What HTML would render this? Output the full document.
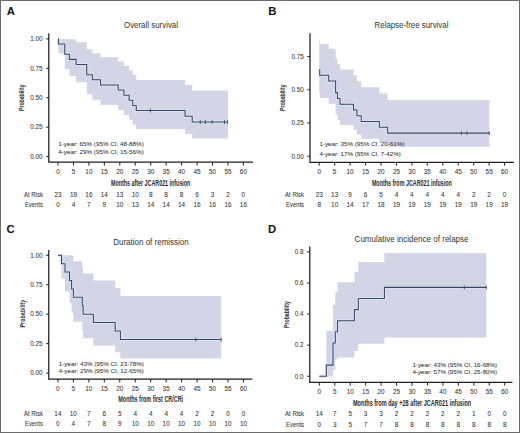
<!DOCTYPE html>
<html><head><meta charset="utf-8"><style>
html,body{margin:0;padding:0;background:#fff;}
svg{display:block;}
text{font-family:"Liberation Sans",sans-serif;}
.s{stroke:#383838;stroke-width:0.06px;}
</style></head><body>
<svg width="520" height="433" viewBox="0 0 520 433">
<rect x="0" y="0" width="520" height="433" fill="#fff"/>
<path d="M58.5,38.9 L64.75,38.9 L64.75,38.9 L69.4,38.9 L69.4,39.32 L76.1,39.32 L76.1,42.35 L86.75,42.35 L86.75,49.31 L92.4,49.31 L92.4,53.14 L100.5,53.14 L100.5,57.18 L118.2,57.18 L118.2,61.39 L123.9,61.39 L123.9,65.78 L129.1,65.78 L129.1,70.34 L132.7,70.34 L132.7,75.05 L136.25,75.05 L136.25,79.92 L185.1,79.92 L185.1,85.12 L192.2,85.12 L192.2,90.57 L228,90.57 L228,138.53 L192.2,138.53 L192.2,133.88 L185.1,133.88 L185.1,128.94 L136.25,128.94 L136.25,124.49 L132.7,124.49 L132.7,119.87 L129.1,119.87 L129.1,115.08 L123.9,115.08 L123.9,110.11 L118.2,110.11 L118.2,104.97 L100.5,104.97 L100.5,99.65 L92.4,99.65 L92.4,94.12 L86.75,94.12 L86.75,82.34 L76.1,82.34 L76.1,75.99 L69.4,75.99 L69.4,69.24 L64.75,69.24 L64.75,53.41 L58.5,53.41 Z" fill="rgb(211,213,230)"/>
<path d="M58,38.9 H58.5 V44.02 H64.75 V54.25 H69.4 V59.37 H76.1 V64.49 H86.75 V74.72 H92.4 V79.84 H100.5 V84.96 H118.2 V90.07 H123.9 V95.19 H129.1 V100.31 H132.7 V105.43 H136.25 V110.54 H185.1 V116.3 H192.2 V122.06 H228" fill="none" stroke="rgb(218,229,249)" stroke-width="2.9" stroke-linejoin="miter" opacity="0.9"/>
<path d="M58,38.9 H58.5 V44.02 H64.75 V54.25 H69.4 V59.37 H76.1 V64.49 H86.75 V74.72 H92.4 V79.84 H100.5 V84.96 H118.2 V90.07 H123.9 V95.19 H129.1 V100.31 H132.7 V105.43 H136.25 V110.54 H185.1 V116.3 H192.2 V122.06 H228" fill="none" stroke="#364761" stroke-width="1.05" stroke-linejoin="miter"/>
<path d="M150.3,108.64 V112.44" stroke="#364761" stroke-width="0.9"/>
<path d="M200.3,120.16 V123.96" stroke="#364761" stroke-width="0.9"/>
<path d="M205.4,120.16 V123.96" stroke="#364761" stroke-width="0.9"/>
<path d="M212.2,120.16 V123.96" stroke="#364761" stroke-width="0.9"/>
<path d="M224.5,120.16 V123.96" stroke="#364761" stroke-width="0.9"/>
<path d="M227.6,120.16 V123.96" stroke="#364761" stroke-width="0.9"/>
<path d="M48.8,33.2 V162.2 H253" fill="none" stroke="#1e1e1e" stroke-width="1.25"/>
<path d="M46.2,38.9 H48.8" stroke="#1e1e1e" stroke-width="1.0"/>
<text x="42.6" y="41.15" font-size="6.3" text-anchor="end" fill="#353535" class="s">1.00</text>
<path d="M46.2,68.32 H48.8" stroke="#1e1e1e" stroke-width="1.0"/>
<text x="42.6" y="70.57" font-size="6.3" text-anchor="end" fill="#353535" class="s">0.75</text>
<path d="M46.2,97.75 H48.8" stroke="#1e1e1e" stroke-width="1.0"/>
<text x="42.6" y="100" font-size="6.3" text-anchor="end" fill="#353535" class="s">0.50</text>
<path d="M46.2,127.17 H48.8" stroke="#1e1e1e" stroke-width="1.0"/>
<text x="42.6" y="129.43" font-size="6.3" text-anchor="end" fill="#353535" class="s">0.25</text>
<path d="M46.2,156.6 H48.8" stroke="#1e1e1e" stroke-width="1.0"/>
<text x="42.6" y="158.85" font-size="6.3" text-anchor="end" fill="#353535" class="s">0.00</text>
<path d="M58,162.2 V165.6" stroke="#1e1e1e" stroke-width="1.0"/>
<text x="58" y="174" font-size="6.4" text-anchor="middle" fill="#353535" class="s">0</text>
<text x="58" y="196.6" font-size="6.4" text-anchor="middle" fill="#353535" class="s">23</text>
<text x="58" y="206.8" font-size="6.4" text-anchor="middle" fill="#353535" class="s">0</text>
<path d="M73.45,162.2 V165.6" stroke="#1e1e1e" stroke-width="1.0"/>
<text x="73.45" y="174" font-size="6.4" text-anchor="middle" fill="#353535" class="s">5</text>
<text x="73.45" y="196.6" font-size="6.4" text-anchor="middle" fill="#353535" class="s">19</text>
<text x="73.45" y="206.8" font-size="6.4" text-anchor="middle" fill="#353535" class="s">4</text>
<path d="M88.9,162.2 V165.6" stroke="#1e1e1e" stroke-width="1.0"/>
<text x="88.9" y="174" font-size="6.4" text-anchor="middle" fill="#353535" class="s">10</text>
<text x="88.9" y="196.6" font-size="6.4" text-anchor="middle" fill="#353535" class="s">16</text>
<text x="88.9" y="206.8" font-size="6.4" text-anchor="middle" fill="#353535" class="s">7</text>
<path d="M104.35,162.2 V165.6" stroke="#1e1e1e" stroke-width="1.0"/>
<text x="104.35" y="174" font-size="6.4" text-anchor="middle" fill="#353535" class="s">15</text>
<text x="104.35" y="196.6" font-size="6.4" text-anchor="middle" fill="#353535" class="s">14</text>
<text x="104.35" y="206.8" font-size="6.4" text-anchor="middle" fill="#353535" class="s">9</text>
<path d="M119.8,162.2 V165.6" stroke="#1e1e1e" stroke-width="1.0"/>
<text x="119.8" y="174" font-size="6.4" text-anchor="middle" fill="#353535" class="s">20</text>
<text x="119.8" y="196.6" font-size="6.4" text-anchor="middle" fill="#353535" class="s">13</text>
<text x="119.8" y="206.8" font-size="6.4" text-anchor="middle" fill="#353535" class="s">10</text>
<path d="M135.25,162.2 V165.6" stroke="#1e1e1e" stroke-width="1.0"/>
<text x="135.25" y="174" font-size="6.4" text-anchor="middle" fill="#353535" class="s">25</text>
<text x="135.25" y="196.6" font-size="6.4" text-anchor="middle" fill="#353535" class="s">10</text>
<text x="135.25" y="206.8" font-size="6.4" text-anchor="middle" fill="#353535" class="s">13</text>
<path d="M150.7,162.2 V165.6" stroke="#1e1e1e" stroke-width="1.0"/>
<text x="150.7" y="174" font-size="6.4" text-anchor="middle" fill="#353535" class="s">30</text>
<text x="150.7" y="196.6" font-size="6.4" text-anchor="middle" fill="#353535" class="s">8</text>
<text x="150.7" y="206.8" font-size="6.4" text-anchor="middle" fill="#353535" class="s">14</text>
<path d="M166.15,162.2 V165.6" stroke="#1e1e1e" stroke-width="1.0"/>
<text x="166.15" y="174" font-size="6.4" text-anchor="middle" fill="#353535" class="s">35</text>
<text x="166.15" y="196.6" font-size="6.4" text-anchor="middle" fill="#353535" class="s">8</text>
<text x="166.15" y="206.8" font-size="6.4" text-anchor="middle" fill="#353535" class="s">14</text>
<path d="M181.6,162.2 V165.6" stroke="#1e1e1e" stroke-width="1.0"/>
<text x="181.6" y="174" font-size="6.4" text-anchor="middle" fill="#353535" class="s">40</text>
<text x="181.6" y="196.6" font-size="6.4" text-anchor="middle" fill="#353535" class="s">8</text>
<text x="181.6" y="206.8" font-size="6.4" text-anchor="middle" fill="#353535" class="s">14</text>
<path d="M197.05,162.2 V165.6" stroke="#1e1e1e" stroke-width="1.0"/>
<text x="197.05" y="174" font-size="6.4" text-anchor="middle" fill="#353535" class="s">45</text>
<text x="197.05" y="196.6" font-size="6.4" text-anchor="middle" fill="#353535" class="s">6</text>
<text x="197.05" y="206.8" font-size="6.4" text-anchor="middle" fill="#353535" class="s">16</text>
<path d="M212.5,162.2 V165.6" stroke="#1e1e1e" stroke-width="1.0"/>
<text x="212.5" y="174" font-size="6.4" text-anchor="middle" fill="#353535" class="s">50</text>
<text x="212.5" y="196.6" font-size="6.4" text-anchor="middle" fill="#353535" class="s">3</text>
<text x="212.5" y="206.8" font-size="6.4" text-anchor="middle" fill="#353535" class="s">16</text>
<path d="M227.95,162.2 V165.6" stroke="#1e1e1e" stroke-width="1.0"/>
<text x="227.95" y="174" font-size="6.4" text-anchor="middle" fill="#353535" class="s">55</text>
<text x="227.95" y="196.6" font-size="6.4" text-anchor="middle" fill="#353535" class="s">2</text>
<text x="227.95" y="206.8" font-size="6.4" text-anchor="middle" fill="#353535" class="s">16</text>
<path d="M243.4,162.2 V165.6" stroke="#1e1e1e" stroke-width="1.0"/>
<text x="243.4" y="174" font-size="6.4" text-anchor="middle" fill="#353535" class="s">60</text>
<text x="243.4" y="196.6" font-size="6.4" text-anchor="middle" fill="#353535" class="s">0</text>
<text x="243.4" y="206.8" font-size="6.4" text-anchor="middle" fill="#353535" class="s">16</text>
<text x="42.9" y="196.6" font-size="6.4" text-anchor="end" textLength="18.9" lengthAdjust="spacingAndGlyphs" fill="#353535" class="s">At Risk</text>
<text x="42.9" y="206.8" font-size="6.4" text-anchor="end" textLength="17.9" lengthAdjust="spacingAndGlyphs" fill="#353535" class="s">Events</text>
<text x="6.7" y="14.6" font-size="11.3" font-weight="bold" fill="#111">A</text>
<text x="124" y="27.9" font-size="8.3" textLength="54" lengthAdjust="spacingAndGlyphs" fill="#333">Overall survival</text>
<text x="111" y="185.6" font-size="8.8" font-weight="bold" textLength="79.4" lengthAdjust="spacingAndGlyphs" fill="#2a2a2a">Months after JCAR021 infusion</text>
<text transform="translate(24.3,97.7) rotate(-90)" x="0" y="0" font-size="8.0" font-weight="bold" text-anchor="middle" fill="#333" textLength="26.4" lengthAdjust="spacingAndGlyphs">Probability</text>
<text x="58.2" y="146.4" font-size="6" textLength="85.6" lengthAdjust="spacingAndGlyphs" fill="#353535" class="s">1-year: 65% (95% CI, 48-88%)</text>
<text x="58.2" y="153.6" font-size="6" textLength="85.6" lengthAdjust="spacingAndGlyphs" fill="#353535" class="s">4-year: 29% (95% CI, 15-56%)</text>
<path d="M319.2,39.34 L319.75,39.34 L319.75,43.9 L328.75,43.9 L328.75,48.67 L335.6,48.67 L335.6,58.77 L337.5,58.77 L337.5,64.1 L340,64.1 L340,69.61 L353.5,69.61 L353.5,75.29 L356.9,75.29 L356.9,81.16 L361.25,81.16 L361.25,87.22 L379.4,87.22 L379.4,93.46 L387.6,93.46 L387.6,99.88 L489.3,99.88 L489.3,146.76 L387.6,146.76 L387.6,142.94 L379.4,142.94 L379.4,138.81 L361.25,138.81 L361.25,134.43 L356.9,134.43 L356.9,129.82 L353.5,129.82 L353.5,124.99 L340,124.99 L340,119.96 L337.5,119.96 L337.5,114.74 L335.6,114.74 L335.6,103.72 L328.75,103.72 L328.75,97.91 L319.75,97.91 L319.75,91.89 L319.2,91.89 Z" fill="rgb(211,213,230)"/>
<path d="M319.2,69.51 H319.75 V75.29 H328.75 V81.08 H335.6 V92.64 H337.5 V98.42 H340 V104.21 H353.5 V109.99 H356.9 V115.77 H361.25 V121.55 H379.4 V127.34 H387.6 V133.12 H489.3" fill="none" stroke="rgb(218,229,249)" stroke-width="2.9" stroke-linejoin="miter" opacity="0.9"/>
<path d="M319.2,69.51 H319.75 V75.29 H328.75 V81.08 H335.6 V92.64 H337.5 V98.42 H340 V104.21 H353.5 V109.99 H356.9 V115.77 H361.25 V121.55 H379.4 V127.34 H387.6 V133.12 H489.3" fill="none" stroke="#364761" stroke-width="1.05" stroke-linejoin="miter"/>
<path d="M461.4,131.22 V135.02" stroke="#364761" stroke-width="0.9"/>
<path d="M466.9,131.22 V135.02" stroke="#364761" stroke-width="0.9"/>
<path d="M489.3,131.22 V135.02" stroke="#364761" stroke-width="0.9"/>
<path d="M310,33.25 V162.25 H513.8" fill="none" stroke="#1e1e1e" stroke-width="1.25"/>
<path d="M307.4,56.5 H310" stroke="#1e1e1e" stroke-width="1.0"/>
<text x="303.7" y="58.75" font-size="6.3" text-anchor="end" fill="#353535" class="s">0.75</text>
<path d="M307.4,89.75 H310" stroke="#1e1e1e" stroke-width="1.0"/>
<text x="303.7" y="92" font-size="6.3" text-anchor="end" fill="#353535" class="s">0.50</text>
<path d="M307.4,123 H310" stroke="#1e1e1e" stroke-width="1.0"/>
<text x="303.7" y="125.25" font-size="6.3" text-anchor="end" fill="#353535" class="s">0.25</text>
<path d="M307.4,156.25 H310" stroke="#1e1e1e" stroke-width="1.0"/>
<text x="303.7" y="158.5" font-size="6.3" text-anchor="end" fill="#353535" class="s">0.00</text>
<path d="M319.2,162.25 V165.65" stroke="#1e1e1e" stroke-width="1.0"/>
<text x="319.2" y="174" font-size="6.4" text-anchor="middle" fill="#353535" class="s">0</text>
<text x="319.2" y="196.6" font-size="6.4" text-anchor="middle" fill="#353535" class="s">23</text>
<text x="319.2" y="206.8" font-size="6.4" text-anchor="middle" fill="#353535" class="s">8</text>
<path d="M334.65,162.25 V165.65" stroke="#1e1e1e" stroke-width="1.0"/>
<text x="334.65" y="174" font-size="6.4" text-anchor="middle" fill="#353535" class="s">5</text>
<text x="334.65" y="196.6" font-size="6.4" text-anchor="middle" fill="#353535" class="s">13</text>
<text x="334.65" y="206.8" font-size="6.4" text-anchor="middle" fill="#353535" class="s">10</text>
<path d="M350.1,162.25 V165.65" stroke="#1e1e1e" stroke-width="1.0"/>
<text x="350.1" y="174" font-size="6.4" text-anchor="middle" fill="#353535" class="s">10</text>
<text x="350.1" y="196.6" font-size="6.4" text-anchor="middle" fill="#353535" class="s">9</text>
<text x="350.1" y="206.8" font-size="6.4" text-anchor="middle" fill="#353535" class="s">14</text>
<path d="M365.55,162.25 V165.65" stroke="#1e1e1e" stroke-width="1.0"/>
<text x="365.55" y="174" font-size="6.4" text-anchor="middle" fill="#353535" class="s">15</text>
<text x="365.55" y="196.6" font-size="6.4" text-anchor="middle" fill="#353535" class="s">6</text>
<text x="365.55" y="206.8" font-size="6.4" text-anchor="middle" fill="#353535" class="s">17</text>
<path d="M381,162.25 V165.65" stroke="#1e1e1e" stroke-width="1.0"/>
<text x="381" y="174" font-size="6.4" text-anchor="middle" fill="#353535" class="s">20</text>
<text x="381" y="196.6" font-size="6.4" text-anchor="middle" fill="#353535" class="s">5</text>
<text x="381" y="206.8" font-size="6.4" text-anchor="middle" fill="#353535" class="s">18</text>
<path d="M396.45,162.25 V165.65" stroke="#1e1e1e" stroke-width="1.0"/>
<text x="396.45" y="174" font-size="6.4" text-anchor="middle" fill="#353535" class="s">25</text>
<text x="396.45" y="196.6" font-size="6.4" text-anchor="middle" fill="#353535" class="s">4</text>
<text x="396.45" y="206.8" font-size="6.4" text-anchor="middle" fill="#353535" class="s">19</text>
<path d="M411.9,162.25 V165.65" stroke="#1e1e1e" stroke-width="1.0"/>
<text x="411.9" y="174" font-size="6.4" text-anchor="middle" fill="#353535" class="s">30</text>
<text x="411.9" y="196.6" font-size="6.4" text-anchor="middle" fill="#353535" class="s">4</text>
<text x="411.9" y="206.8" font-size="6.4" text-anchor="middle" fill="#353535" class="s">19</text>
<path d="M427.35,162.25 V165.65" stroke="#1e1e1e" stroke-width="1.0"/>
<text x="427.35" y="174" font-size="6.4" text-anchor="middle" fill="#353535" class="s">35</text>
<text x="427.35" y="196.6" font-size="6.4" text-anchor="middle" fill="#353535" class="s">4</text>
<text x="427.35" y="206.8" font-size="6.4" text-anchor="middle" fill="#353535" class="s">19</text>
<path d="M442.8,162.25 V165.65" stroke="#1e1e1e" stroke-width="1.0"/>
<text x="442.8" y="174" font-size="6.4" text-anchor="middle" fill="#353535" class="s">40</text>
<text x="442.8" y="196.6" font-size="6.4" text-anchor="middle" fill="#353535" class="s">4</text>
<text x="442.8" y="206.8" font-size="6.4" text-anchor="middle" fill="#353535" class="s">19</text>
<path d="M458.25,162.25 V165.65" stroke="#1e1e1e" stroke-width="1.0"/>
<text x="458.25" y="174" font-size="6.4" text-anchor="middle" fill="#353535" class="s">45</text>
<text x="458.25" y="196.6" font-size="6.4" text-anchor="middle" fill="#353535" class="s">4</text>
<text x="458.25" y="206.8" font-size="6.4" text-anchor="middle" fill="#353535" class="s">19</text>
<path d="M473.7,162.25 V165.65" stroke="#1e1e1e" stroke-width="1.0"/>
<text x="473.7" y="174" font-size="6.4" text-anchor="middle" fill="#353535" class="s">50</text>
<text x="473.7" y="196.6" font-size="6.4" text-anchor="middle" fill="#353535" class="s">2</text>
<text x="473.7" y="206.8" font-size="6.4" text-anchor="middle" fill="#353535" class="s">19</text>
<path d="M489.15,162.25 V165.65" stroke="#1e1e1e" stroke-width="1.0"/>
<text x="489.15" y="174" font-size="6.4" text-anchor="middle" fill="#353535" class="s">55</text>
<text x="489.15" y="196.6" font-size="6.4" text-anchor="middle" fill="#353535" class="s">2</text>
<text x="489.15" y="206.8" font-size="6.4" text-anchor="middle" fill="#353535" class="s">19</text>
<path d="M504.6,162.25 V165.65" stroke="#1e1e1e" stroke-width="1.0"/>
<text x="504.6" y="174" font-size="6.4" text-anchor="middle" fill="#353535" class="s">60</text>
<text x="504.6" y="196.6" font-size="6.4" text-anchor="middle" fill="#353535" class="s">0</text>
<text x="504.6" y="206.8" font-size="6.4" text-anchor="middle" fill="#353535" class="s">19</text>
<text x="304" y="196.6" font-size="6.4" text-anchor="end" textLength="18.9" lengthAdjust="spacingAndGlyphs" fill="#353535" class="s">At Risk</text>
<text x="304" y="206.8" font-size="6.4" text-anchor="end" textLength="17.9" lengthAdjust="spacingAndGlyphs" fill="#353535" class="s">Events</text>
<text x="268.2" y="14.5" font-size="11.3" font-weight="bold" fill="#111">B</text>
<text x="374.6" y="28.2" font-size="8.3" textLength="73.8" lengthAdjust="spacingAndGlyphs" fill="#333">Relapse-free survival</text>
<text x="371.9" y="185.6" font-size="8.8" font-weight="bold" textLength="80" lengthAdjust="spacingAndGlyphs" fill="#2a2a2a">Months from JCAR021 infusion</text>
<text transform="translate(285.4,97.7) rotate(-90)" x="0" y="0" font-size="8.0" font-weight="bold" text-anchor="middle" fill="#333" textLength="26.4" lengthAdjust="spacingAndGlyphs">Probability</text>
<text x="319.4" y="146.3" font-size="6" textLength="85" lengthAdjust="spacingAndGlyphs" fill="#353535" class="s">1-year: 35% (95% CI, 20-61%)</text>
<text x="319.4" y="156.4" font-size="6" textLength="81.4" lengthAdjust="spacingAndGlyphs" fill="#353535" class="s">4-year: 17% (95% CI, 7-42%)</text>
<path d="M61.5,255.25 L65,255.25 L65,255.25 L69.5,255.25 L69.5,255.25 L71.6,255.25 L71.6,255.86 L73.4,255.86 L73.4,261.15 L82.3,261.15 L82.3,267.1 L83.1,267.1 L83.1,273.61 L93.4,273.61 L93.4,280.62 L115.2,280.62 L115.2,288.11 L120.4,288.11 L120.4,296.02 L221.2,296.02 L221.2,358.39 L120.4,358.39 L120.4,352.26 L115.2,352.26 L115.2,345.52 L93.4,345.52 L93.4,338.2 L83.1,338.2 L83.1,330.32 L82.3,330.32 L82.3,321.83 L73.4,321.83 L73.4,312.66 L71.6,312.66 L71.6,302.67 L69.5,302.67 L69.5,291.53 L65,291.53 L65,278.47 L61.5,278.47 Z" fill="rgb(211,213,230)"/>
<path d="M57.9,255.25 H61.5 V263.67 H65 V272.09 H69.5 V280.5 H71.6 V288.92 H73.4 V297.34 H82.3 V305.76 H83.1 V314.18 H93.4 V322.59 H115.2 V331.01 H120.4 V339.43 H221.2" fill="none" stroke="rgb(218,229,249)" stroke-width="2.9" stroke-linejoin="miter" opacity="0.9"/>
<path d="M57.9,255.25 H61.5 V263.67 H65 V272.09 H69.5 V280.5 H71.6 V288.92 H73.4 V297.34 H82.3 V305.76 H83.1 V314.18 H93.4 V322.59 H115.2 V331.01 H120.4 V339.43 H221.2" fill="none" stroke="#364761" stroke-width="1.05" stroke-linejoin="miter"/>
<path d="M195.75,337.53 V341.33" stroke="#364761" stroke-width="0.9"/>
<path d="M221.2,337.53 V341.33" stroke="#364761" stroke-width="0.9"/>
<path d="M48.75,250 V379 H252.3" fill="none" stroke="#1e1e1e" stroke-width="1.25"/>
<path d="M46.15,255.25 H48.75" stroke="#1e1e1e" stroke-width="1.0"/>
<text x="42.4" y="257.5" font-size="6.3" text-anchor="end" fill="#353535" class="s">1.00</text>
<path d="M46.15,284.71 H48.75" stroke="#1e1e1e" stroke-width="1.0"/>
<text x="42.4" y="286.96" font-size="6.3" text-anchor="end" fill="#353535" class="s">0.75</text>
<path d="M46.15,314.18 H48.75" stroke="#1e1e1e" stroke-width="1.0"/>
<text x="42.4" y="316.43" font-size="6.3" text-anchor="end" fill="#353535" class="s">0.50</text>
<path d="M46.15,343.64 H48.75" stroke="#1e1e1e" stroke-width="1.0"/>
<text x="42.4" y="345.89" font-size="6.3" text-anchor="end" fill="#353535" class="s">0.25</text>
<path d="M46.15,373.1 H48.75" stroke="#1e1e1e" stroke-width="1.0"/>
<text x="42.4" y="375.35" font-size="6.3" text-anchor="end" fill="#353535" class="s">0.00</text>
<path d="M57.9,379 V382.4" stroke="#1e1e1e" stroke-width="1.0"/>
<text x="57.9" y="390.5" font-size="6.4" text-anchor="middle" fill="#353535" class="s">0</text>
<text x="57.9" y="416.2" font-size="6.4" text-anchor="middle" fill="#353535" class="s">14</text>
<text x="57.9" y="426.2" font-size="6.4" text-anchor="middle" fill="#353535" class="s">0</text>
<path d="M73.36,379 V382.4" stroke="#1e1e1e" stroke-width="1.0"/>
<text x="73.36" y="390.5" font-size="6.4" text-anchor="middle" fill="#353535" class="s">5</text>
<text x="73.36" y="416.2" font-size="6.4" text-anchor="middle" fill="#353535" class="s">10</text>
<text x="73.36" y="426.2" font-size="6.4" text-anchor="middle" fill="#353535" class="s">4</text>
<path d="M88.83,379 V382.4" stroke="#1e1e1e" stroke-width="1.0"/>
<text x="88.83" y="390.5" font-size="6.4" text-anchor="middle" fill="#353535" class="s">10</text>
<text x="88.83" y="416.2" font-size="6.4" text-anchor="middle" fill="#353535" class="s">7</text>
<text x="88.83" y="426.2" font-size="6.4" text-anchor="middle" fill="#353535" class="s">7</text>
<path d="M104.29,379 V382.4" stroke="#1e1e1e" stroke-width="1.0"/>
<text x="104.29" y="390.5" font-size="6.4" text-anchor="middle" fill="#353535" class="s">15</text>
<text x="104.29" y="416.2" font-size="6.4" text-anchor="middle" fill="#353535" class="s">6</text>
<text x="104.29" y="426.2" font-size="6.4" text-anchor="middle" fill="#353535" class="s">8</text>
<path d="M119.76,379 V382.4" stroke="#1e1e1e" stroke-width="1.0"/>
<text x="119.76" y="390.5" font-size="6.4" text-anchor="middle" fill="#353535" class="s">20</text>
<text x="119.76" y="416.2" font-size="6.4" text-anchor="middle" fill="#353535" class="s">5</text>
<text x="119.76" y="426.2" font-size="6.4" text-anchor="middle" fill="#353535" class="s">9</text>
<path d="M135.22,379 V382.4" stroke="#1e1e1e" stroke-width="1.0"/>
<text x="135.22" y="390.5" font-size="6.4" text-anchor="middle" fill="#353535" class="s">25</text>
<text x="135.22" y="416.2" font-size="6.4" text-anchor="middle" fill="#353535" class="s">4</text>
<text x="135.22" y="426.2" font-size="6.4" text-anchor="middle" fill="#353535" class="s">10</text>
<path d="M150.69,379 V382.4" stroke="#1e1e1e" stroke-width="1.0"/>
<text x="150.69" y="390.5" font-size="6.4" text-anchor="middle" fill="#353535" class="s">30</text>
<text x="150.69" y="416.2" font-size="6.4" text-anchor="middle" fill="#353535" class="s">4</text>
<text x="150.69" y="426.2" font-size="6.4" text-anchor="middle" fill="#353535" class="s">10</text>
<path d="M166.16,379 V382.4" stroke="#1e1e1e" stroke-width="1.0"/>
<text x="166.16" y="390.5" font-size="6.4" text-anchor="middle" fill="#353535" class="s">35</text>
<text x="166.16" y="416.2" font-size="6.4" text-anchor="middle" fill="#353535" class="s">4</text>
<text x="166.16" y="426.2" font-size="6.4" text-anchor="middle" fill="#353535" class="s">10</text>
<path d="M181.62,379 V382.4" stroke="#1e1e1e" stroke-width="1.0"/>
<text x="181.62" y="390.5" font-size="6.4" text-anchor="middle" fill="#353535" class="s">40</text>
<text x="181.62" y="416.2" font-size="6.4" text-anchor="middle" fill="#353535" class="s">4</text>
<text x="181.62" y="426.2" font-size="6.4" text-anchor="middle" fill="#353535" class="s">10</text>
<path d="M197.09,379 V382.4" stroke="#1e1e1e" stroke-width="1.0"/>
<text x="197.09" y="390.5" font-size="6.4" text-anchor="middle" fill="#353535" class="s">45</text>
<text x="197.09" y="416.2" font-size="6.4" text-anchor="middle" fill="#353535" class="s">2</text>
<text x="197.09" y="426.2" font-size="6.4" text-anchor="middle" fill="#353535" class="s">10</text>
<path d="M212.55,379 V382.4" stroke="#1e1e1e" stroke-width="1.0"/>
<text x="212.55" y="390.5" font-size="6.4" text-anchor="middle" fill="#353535" class="s">50</text>
<text x="212.55" y="416.2" font-size="6.4" text-anchor="middle" fill="#353535" class="s">2</text>
<text x="212.55" y="426.2" font-size="6.4" text-anchor="middle" fill="#353535" class="s">10</text>
<path d="M228.02,379 V382.4" stroke="#1e1e1e" stroke-width="1.0"/>
<text x="228.02" y="390.5" font-size="6.4" text-anchor="middle" fill="#353535" class="s">55</text>
<text x="228.02" y="416.2" font-size="6.4" text-anchor="middle" fill="#353535" class="s">0</text>
<text x="228.02" y="426.2" font-size="6.4" text-anchor="middle" fill="#353535" class="s">10</text>
<path d="M243.48,379 V382.4" stroke="#1e1e1e" stroke-width="1.0"/>
<text x="243.48" y="390.5" font-size="6.4" text-anchor="middle" fill="#353535" class="s">60</text>
<text x="243.48" y="416.2" font-size="6.4" text-anchor="middle" fill="#353535" class="s">0</text>
<text x="243.48" y="426.2" font-size="6.4" text-anchor="middle" fill="#353535" class="s">10</text>
<text x="42.9" y="416.2" font-size="6.4" text-anchor="end" textLength="18.9" lengthAdjust="spacingAndGlyphs" fill="#353535" class="s">At Risk</text>
<text x="42.9" y="426.2" font-size="6.4" text-anchor="end" textLength="17.9" lengthAdjust="spacingAndGlyphs" fill="#353535" class="s">Events</text>
<text x="6.4" y="232.6" font-size="11.3" font-weight="bold" fill="#111">C</text>
<text x="113.2" y="244.9" font-size="8.3" textLength="75.6" lengthAdjust="spacingAndGlyphs" fill="#333">Duration of remission</text>
<text x="118.3" y="401.9" font-size="8.8" font-weight="bold" textLength="64.8" lengthAdjust="spacingAndGlyphs" fill="#2a2a2a">Months from first CR/CRi</text>
<text transform="translate(24.8,313.7) rotate(-90)" x="0" y="0" font-size="8.0" font-weight="bold" text-anchor="middle" fill="#333" textLength="27.6" lengthAdjust="spacingAndGlyphs">Probability</text>
<text x="58.8" y="365.6" font-size="6" textLength="85" lengthAdjust="spacingAndGlyphs" fill="#353535" class="s">1-year: 43% (95% CI, 23-78%)</text>
<text x="58.8" y="372.9" font-size="6" textLength="85" lengthAdjust="spacingAndGlyphs" fill="#353535" class="s">4-year: 29% (95% CI, 12-65%)</text>
<path d="M326.3,330.69 L333,330.69 L333,304.72 L335.3,304.72 L335.3,292.28 L337.5,292.28 L337.5,282.33 L354.4,282.33 L354.4,271.75 L358.3,271.75 L358.3,261.96 L384.4,261.96 L384.4,253.09 L486.3,253.09 L486.3,337.38 L384.4,337.38 L384.4,343.75 L358.3,343.75 L358.3,351.06 L354.4,351.06 L354.4,357.43 L337.5,357.43 L337.5,359.14 L335.3,359.14 L335.3,370.03 L333,370.03 L333,376.25 L326.3,376.25 Z" fill="rgb(211,213,230)"/>
<path d="M319.3,376.25 H326.3 V365.14 H333 V342.93 H335.3 V331.82 H337.5 V320.71 H354.4 V309.61 H358.3 V298.5 H384.4 V287.39 H486.3" fill="none" stroke="rgb(218,229,249)" stroke-width="2.9" stroke-linejoin="miter" opacity="0.9"/>
<path d="M319.3,376.25 H326.3 V365.14 H333 V342.93 H335.3 V331.82 H337.5 V320.71 H354.4 V309.61 H358.3 V298.5 H384.4 V287.39 H486.3" fill="none" stroke="#364761" stroke-width="1.05" stroke-linejoin="miter"/>
<path d="M464.3,285.49 V289.29" stroke="#364761" stroke-width="0.9"/>
<path d="M486.3,285.49 V289.29" stroke="#364761" stroke-width="0.9"/>
<path d="M309.8,246.4 V382.25 H512.5" fill="none" stroke="#1e1e1e" stroke-width="1.25"/>
<path d="M307.2,251.85 H309.8" stroke="#1e1e1e" stroke-width="1.0"/>
<text x="303.5" y="254.1" font-size="6.3" text-anchor="end" fill="#353535" class="s">0.8</text>
<path d="M307.2,282.95 H309.8" stroke="#1e1e1e" stroke-width="1.0"/>
<text x="303.5" y="285.2" font-size="6.3" text-anchor="end" fill="#353535" class="s">0.6</text>
<path d="M307.2,314.05 H309.8" stroke="#1e1e1e" stroke-width="1.0"/>
<text x="303.5" y="316.3" font-size="6.3" text-anchor="end" fill="#353535" class="s">0.4</text>
<path d="M307.2,345.15 H309.8" stroke="#1e1e1e" stroke-width="1.0"/>
<text x="303.5" y="347.4" font-size="6.3" text-anchor="end" fill="#353535" class="s">0.2</text>
<path d="M307.2,376.25 H309.8" stroke="#1e1e1e" stroke-width="1.0"/>
<text x="303.5" y="378.5" font-size="6.3" text-anchor="end" fill="#353535" class="s">0.0</text>
<path d="M319.3,382.25 V385.65" stroke="#1e1e1e" stroke-width="1.0"/>
<text x="319.3" y="393.9" font-size="6.4" text-anchor="middle" fill="#353535" class="s">0</text>
<text x="319.3" y="416.3" font-size="6.4" text-anchor="middle" fill="#353535" class="s">14</text>
<text x="319.3" y="427" font-size="6.4" text-anchor="middle" fill="#353535" class="s">0</text>
<path d="M334.75,382.25 V385.65" stroke="#1e1e1e" stroke-width="1.0"/>
<text x="334.75" y="393.9" font-size="6.4" text-anchor="middle" fill="#353535" class="s">5</text>
<text x="334.75" y="416.3" font-size="6.4" text-anchor="middle" fill="#353535" class="s">7</text>
<text x="334.75" y="427" font-size="6.4" text-anchor="middle" fill="#353535" class="s">3</text>
<path d="M350.2,382.25 V385.65" stroke="#1e1e1e" stroke-width="1.0"/>
<text x="350.2" y="393.9" font-size="6.4" text-anchor="middle" fill="#353535" class="s">10</text>
<text x="350.2" y="416.3" font-size="6.4" text-anchor="middle" fill="#353535" class="s">5</text>
<text x="350.2" y="427" font-size="6.4" text-anchor="middle" fill="#353535" class="s">5</text>
<path d="M365.65,382.25 V385.65" stroke="#1e1e1e" stroke-width="1.0"/>
<text x="365.65" y="393.9" font-size="6.4" text-anchor="middle" fill="#353535" class="s">15</text>
<text x="365.65" y="416.3" font-size="6.4" text-anchor="middle" fill="#353535" class="s">3</text>
<text x="365.65" y="427" font-size="6.4" text-anchor="middle" fill="#353535" class="s">7</text>
<path d="M381.1,382.25 V385.65" stroke="#1e1e1e" stroke-width="1.0"/>
<text x="381.1" y="393.9" font-size="6.4" text-anchor="middle" fill="#353535" class="s">20</text>
<text x="381.1" y="416.3" font-size="6.4" text-anchor="middle" fill="#353535" class="s">3</text>
<text x="381.1" y="427" font-size="6.4" text-anchor="middle" fill="#353535" class="s">7</text>
<path d="M396.55,382.25 V385.65" stroke="#1e1e1e" stroke-width="1.0"/>
<text x="396.55" y="393.9" font-size="6.4" text-anchor="middle" fill="#353535" class="s">25</text>
<text x="396.55" y="416.3" font-size="6.4" text-anchor="middle" fill="#353535" class="s">2</text>
<text x="396.55" y="427" font-size="6.4" text-anchor="middle" fill="#353535" class="s">8</text>
<path d="M412,382.25 V385.65" stroke="#1e1e1e" stroke-width="1.0"/>
<text x="412" y="393.9" font-size="6.4" text-anchor="middle" fill="#353535" class="s">30</text>
<text x="412" y="416.3" font-size="6.4" text-anchor="middle" fill="#353535" class="s">2</text>
<text x="412" y="427" font-size="6.4" text-anchor="middle" fill="#353535" class="s">8</text>
<path d="M427.45,382.25 V385.65" stroke="#1e1e1e" stroke-width="1.0"/>
<text x="427.45" y="393.9" font-size="6.4" text-anchor="middle" fill="#353535" class="s">35</text>
<text x="427.45" y="416.3" font-size="6.4" text-anchor="middle" fill="#353535" class="s">2</text>
<text x="427.45" y="427" font-size="6.4" text-anchor="middle" fill="#353535" class="s">8</text>
<path d="M442.9,382.25 V385.65" stroke="#1e1e1e" stroke-width="1.0"/>
<text x="442.9" y="393.9" font-size="6.4" text-anchor="middle" fill="#353535" class="s">40</text>
<text x="442.9" y="416.3" font-size="6.4" text-anchor="middle" fill="#353535" class="s">2</text>
<text x="442.9" y="427" font-size="6.4" text-anchor="middle" fill="#353535" class="s">8</text>
<path d="M458.35,382.25 V385.65" stroke="#1e1e1e" stroke-width="1.0"/>
<text x="458.35" y="393.9" font-size="6.4" text-anchor="middle" fill="#353535" class="s">45</text>
<text x="458.35" y="416.3" font-size="6.4" text-anchor="middle" fill="#353535" class="s">2</text>
<text x="458.35" y="427" font-size="6.4" text-anchor="middle" fill="#353535" class="s">8</text>
<path d="M473.8,382.25 V385.65" stroke="#1e1e1e" stroke-width="1.0"/>
<text x="473.8" y="393.9" font-size="6.4" text-anchor="middle" fill="#353535" class="s">50</text>
<text x="473.8" y="416.3" font-size="6.4" text-anchor="middle" fill="#353535" class="s">1</text>
<text x="473.8" y="427" font-size="6.4" text-anchor="middle" fill="#353535" class="s">8</text>
<path d="M489.25,382.25 V385.65" stroke="#1e1e1e" stroke-width="1.0"/>
<text x="489.25" y="393.9" font-size="6.4" text-anchor="middle" fill="#353535" class="s">55</text>
<text x="489.25" y="416.3" font-size="6.4" text-anchor="middle" fill="#353535" class="s">0</text>
<text x="489.25" y="427" font-size="6.4" text-anchor="middle" fill="#353535" class="s">8</text>
<path d="M504.7,382.25 V385.65" stroke="#1e1e1e" stroke-width="1.0"/>
<text x="504.7" y="393.9" font-size="6.4" text-anchor="middle" fill="#353535" class="s">60</text>
<text x="504.7" y="416.3" font-size="6.4" text-anchor="middle" fill="#353535" class="s">0</text>
<text x="504.7" y="427" font-size="6.4" text-anchor="middle" fill="#353535" class="s">8</text>
<text x="304" y="416.3" font-size="6.4" text-anchor="end" textLength="18.9" lengthAdjust="spacingAndGlyphs" fill="#353535" class="s">At Risk</text>
<text x="304" y="427" font-size="6.4" text-anchor="end" textLength="17.9" lengthAdjust="spacingAndGlyphs" fill="#353535" class="s">Events</text>
<text x="268" y="232.8" font-size="11.3" font-weight="bold" fill="#111">D</text>
<text x="354.6" y="241.6" font-size="8.3" textLength="114" lengthAdjust="spacingAndGlyphs" fill="#333">Cumulative incidence of relapse</text>
<text x="353" y="405.75" font-size="8.8" font-weight="bold" textLength="118.25" lengthAdjust="spacingAndGlyphs" fill="#2a2a2a">Months from day +28 after JCAR021 infusion</text>
<text transform="translate(288.8,314.6) rotate(-90)" x="0" y="0" font-size="8.0" font-weight="bold" text-anchor="middle" fill="#333" textLength="26.8" lengthAdjust="spacingAndGlyphs">Probability</text>
<text x="497.2" y="367.1" font-size="6" text-anchor="end" textLength="84.8" lengthAdjust="spacingAndGlyphs" fill="#353535" class="s">1-year: 43% (95% CI, 16-68%)</text>
<text x="497.2" y="374.3" font-size="6" text-anchor="end" textLength="84.8" lengthAdjust="spacingAndGlyphs" fill="#353535" class="s">4-year: 57% (95% CI, 25-80%)</text>
<rect x="0.5" y="0.5" width="519" height="432" fill="none" stroke="#6c6c6c" stroke-width="1"/>
</svg>
</body></html>
